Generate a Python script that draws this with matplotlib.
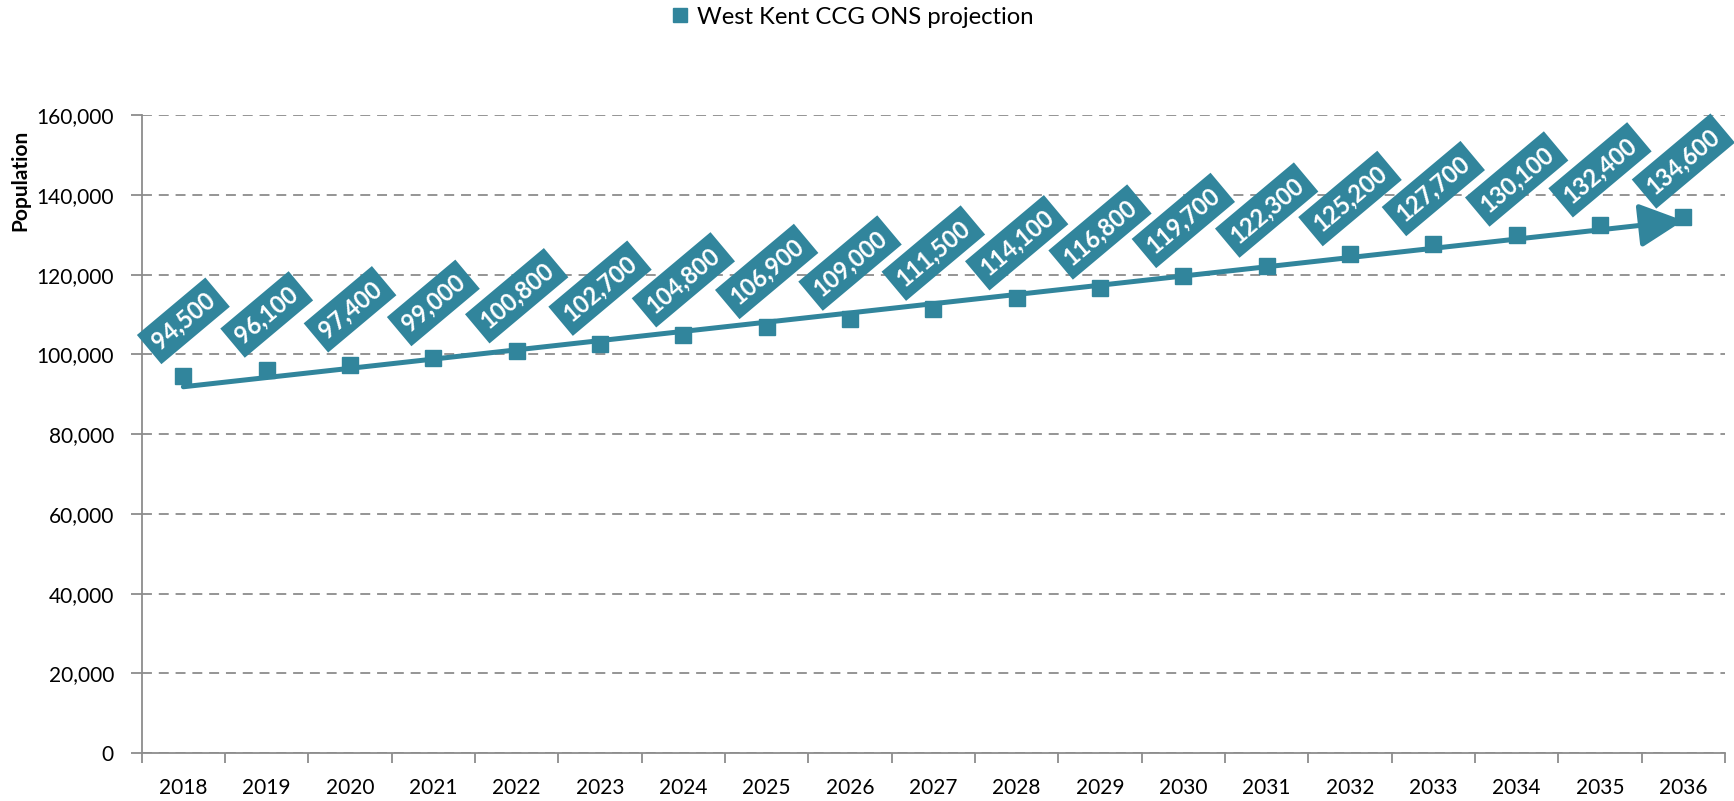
import matplotlib
matplotlib.use("Agg")
import matplotlib.pyplot as plt
from matplotlib.lines import Line2D
import numpy as np

# ---- data ----
years = ["2018", "2019", "2020", "2021", "2022", "2023", "2024", "2025", "2026",
         "2027", "2028", "2029", "2030", "2031", "2032", "2033", "2034", "2035", "2036"]
population = [94500, 96100, 97400, 99000, 100800, 102700, 104800, 106900, 109000,
              111500, 114100, 116800, 119700, 122300, 125200, 127700, 130100, 132400, 134600]
trend_years = ["2018", "2036"]
trend_values = [91900, 133600]
y_ticks = [0, 20000, 40000, 60000, 80000, 100000, 120000, 140000, 160000]
series_name = "West Kent CCG ONS projection"
y_title = "Population"

TEAL = "#31859C"
GRID = "#8C8C8C"
AXIS = "#8C8C8C"

plt.rcParams["font.family"] = ["Lato", "DejaVu Sans"]

W, H, DPI = 1734, 801, 100
fig = plt.figure(figsize=(W / DPI, H / DPI), dpi=DPI)
ax = fig.add_axes([141.7 / W, 1 - 753 / H, (1725 - 141.7) / W, (753 - 115.4) / H])

x = np.arange(len(years))
xpos = {y: i for i, y in enumerate(years)}

# gridlines
ax.set_ylim(0, 160000)
ax.set_xlim(-0.5, len(years) - 0.5)
ax.set_yticks(y_ticks)
ax.set_yticklabels([f"{v:,}" for v in y_ticks])
ax.yaxis.grid(True, color=GRID, lw=1.3, ls=(0, (5.5, 3.8)))
ax.set_axisbelow(True)

# trend arrow
tx = [xpos[t] for t in trend_years]
ax.annotate("", xy=(tx[1], trend_values[1]), xytext=(tx[0], trend_values[0]),
            arrowprops=dict(arrowstyle="-|>,head_length=0.9,head_width=0.45",
                            mutation_scale=30, lw=3.6, color=TEAL,
                            shrinkA=0, shrinkB=0, capstyle="round"),
            zorder=3)

# markers
ax.plot(x, population, ls="none", marker="s", ms=12.2, color=TEAL, zorder=4)

# data labels
for xi, v in zip(x, population):
    ax.annotate(f"{v:,}", xy=(xi, v), xytext=(0, 40), textcoords="offset points",
                ha="center", va="center", rotation=40, rotation_mode="anchor",
                color="white", fontsize=17, fontweight="bold",
                bbox=dict(boxstyle="square,pad=0.32", fc=TEAL, ec="none"),
                zorder=5)

# x axis: ticks between categories, labels at centres
ax.set_xticks(np.arange(-0.5, len(years), 1.0))
ax.set_xticklabels([])
ax.set_xticks(x, minor=True)
ax.set_xticklabels(years, minor=True)
ax.tick_params(axis="x", which="minor", length=0, pad=18, labelsize=15)
ax.tick_params(axis="x", which="major", length=7, width=1.3, color=AXIS, direction="out")
ax.tick_params(axis="y", length=8, width=1.3, color=AXIS, direction="out", pad=12, labelsize=15)

for s in ["top", "right"]:
    ax.spines[s].set_visible(False)
for s in ["left", "bottom"]:
    ax.spines[s].set_color(AXIS)
    ax.spines[s].set_linewidth(1.3)

# y title
fig.text(20 / W, 1 - 180 / H, y_title, rotation=90, ha="center", va="center",
         fontsize=15, fontweight="bold")

# legend
handle = Line2D([], [], ls="none", marker="s", ms=10.5, color=TEAL)
fig.legend([handle], [series_name], loc="center", bbox_to_anchor=(852 / W, 1 - 17 / H),
           frameon=False, fontsize=17.2, handletextpad=0.3, handlelength=0.8,
           borderpad=0, borderaxespad=0)

fig.savefig("out.png", dpi=DPI)
